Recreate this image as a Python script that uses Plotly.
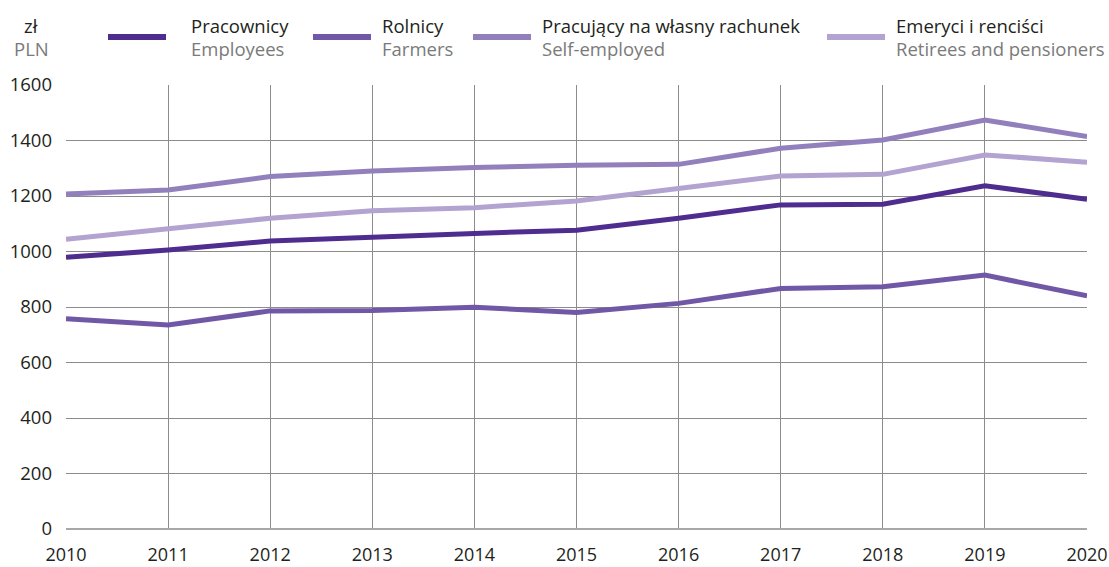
import plotly.graph_objects as go

years = list(range(2010, 2021))
employees = [979, 1005, 1038, 1053, 1065, 1077, 1120, 1168, 1170, 1237, 1188]
farmers = [758, 735, 786, 787, 799, 780, 813, 867, 873, 915, 840]
self_employed = [1207, 1222, 1270, 1290, 1303, 1311, 1314, 1372, 1402, 1474, 1414]
retirees = [1044, 1084, 1120, 1147, 1158, 1182, 1228, 1272, 1278, 1348, 1322]

names_pl = ["Pracownicy", "Rolnicy", "Pracujący na własny rachunek", "Emeryci i renciści"]
names_en = ["Employees", "Farmers", "Self-employed", "Retirees and pensioners"]
colors = ["#4f2d8f", "#7158a6", "#9180bb", "#b2a3d1"]
series = [employees, farmers, self_employed, retirees]
y_ticks = [0, 200, 400, 600, 800, 1000, 1200, 1400, 1600]

FONT = "Open Sans"
PL, PR, PT, PB = 66, 1087, 85, 529   # plot area edges in pixels
PW, PH = PR - PL, PB - PT


def px(x):
    return (x - PL) / PW


def py(y):
    return (PB - y) / PH


fig = go.Figure()
# draw back-to-front so the darkest line sits on top
for vals, name, col in reversed(list(zip(series, names_en, colors))):
    fig.add_trace(go.Scatter(x=years, y=vals, mode="lines", name=name,
                             line=dict(color=col, width=5), showlegend=False))

# two-language legend across the top
legend_x = [(108, 189), (313, 380), (473, 540), (827, 894)]
shapes = []
annotations = []
for (lx, tx), pl, en, col in zip(legend_x, names_pl, names_en, colors):
    shapes.append(dict(type="line", xref="paper", yref="paper",
                       x0=px(lx), x1=px(lx + 58), y0=py(37), y1=py(37),
                       line=dict(color=col, width=6)))
    annotations.append(dict(xref="paper", yref="paper", x=px(tx), y=py(25),
                            text=pl, showarrow=False, xanchor="left", yanchor="middle",
                            font=dict(family=FONT, size=18.5, color="#231f20")))
    annotations.append(dict(xref="paper", yref="paper", x=px(tx), y=py(49),
                            text=en, showarrow=False, xanchor="left", yanchor="middle",
                            font=dict(family=FONT, size=18.5, color="#7a7a7a")))
annotations.append(dict(xref="paper", yref="paper", x=px(31), y=py(25), text="zł",
                        showarrow=False, xanchor="center", yanchor="middle",
                        font=dict(family=FONT, size=18.5, color="#231f20")))
annotations.append(dict(xref="paper", yref="paper", x=px(31), y=py(49), text="PLN",
                        showarrow=False, xanchor="center", yanchor="middle",
                        font=dict(family=FONT, size=18.5, color="#7a7a7a")))

fig.update_layout(
    width=1109, height=567,
    margin=dict(l=PL, r=1109 - PR, t=PT, b=567 - PB),
    paper_bgcolor="white", plot_bgcolor="white",
    font=dict(family=FONT, size=18.5, color="#231f20"),
    shapes=shapes, annotations=annotations,
    xaxis=dict(range=[2010, 2020], tickvals=years, ticktext=[str(y) for y in years],
               showgrid=True, gridcolor="#8c8c8c", gridwidth=1,
               zeroline=False, showline=False, ticks="", ticklabelstandoff=13,
               tickfont=dict(size=18), automargin=False, fixedrange=True),
    yaxis=dict(range=[0, 1600], tickvals=y_ticks, ticktext=[str(v) for v in y_ticks],
               showgrid=True, gridcolor="#8c8c8c", gridwidth=1,
               zeroline=True, zerolinecolor="#a8a8a8", zerolinewidth=2,
               showline=False, ticks="", ticklabelstandoff=13,
               automargin=False, fixedrange=True),
)

fig.write_html("out.html")
